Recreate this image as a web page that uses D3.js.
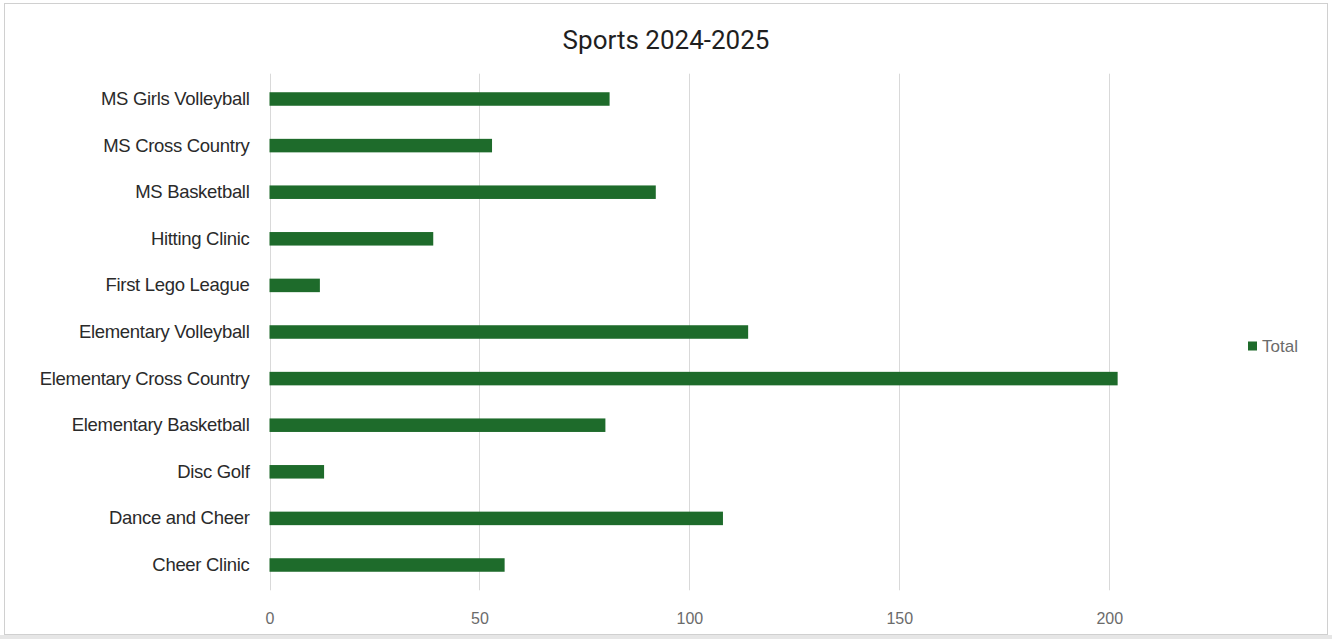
<!DOCTYPE html>
<html>
<head>
<meta charset="utf-8">
<script src="https://cdn.jsdelivr.net/npm/d3@7"></script>
<style>
  html, body { margin: 0; padding: 0; background: #fff; }
  svg { display: block; }
</style>
</head>
<body>
<svg id="chart"></svg>
<script>
// categories listed top to bottom, as they appear in the chart
const categories = [
  'MS Girls Volleyball',
  'MS Cross Country',
  'MS Basketball',
  'Hitting Clinic',
  'First Lego League',
  'Elementary Volleyball',
  'Elementary Cross Country',
  'Elementary Basketball',
  'Disc Golf',
  'Dance and Cheer',
  'Cheer Clinic'
];
const totals = [81, 53, 92, 39, 12, 114, 202, 80, 13, 108, 56];
const xTicks = [0, 50, 100, 150, 200];
const seriesName = 'Total';
const chartTitle = 'Sports 2024-2025';

const width = 1332;
const height = 639;
const barColor = '#1e6b2b';
const gridColor = '#d9d9d9';

const svg = d3.select('#chart')
  .attr('width', width)
  .attr('height', height);

// chart frame
svg.append('rect')
  .attr('x', 0).attr('y', 635)
  .attr('width', width).attr('height', 4)
  .attr('fill', '#e6e6e6');
svg.append('rect')
  .attr('x', 4.5).attr('y', 3.5)
  .attr('width', 1323).attr('height', 631)
  .attr('fill', '#fff')
  .attr('stroke', '#d0d0d0')
  .attr('stroke-width', 1);

const plotLeft = 269.5;
const plotRight = 1231;
const plotTop = 75.7;
const plotBottom = 588.3;

const x = d3.scaleLinear().domain([0, 229]).range([plotLeft, plotRight]);
const y = d3.scaleBand().domain(categories).range([plotTop, plotBottom]).paddingInner(0.71).paddingOuter(0.355);

// vertical gridlines
svg.append('g')
  .selectAll('line')
  .data(xTicks)
  .join('line')
  .attr('x1', d => Math.round(x(d)) + 0.5)
  .attr('x2', d => Math.round(x(d)) + 0.5)
  .attr('y1', plotTop - 2)
  .attr('y2', plotBottom + 2)
  .attr('stroke', gridColor)
  .attr('stroke-width', 1);

// bars
const rows = categories.map((c, i) => ({ label: c, value: totals[i] }));
svg.append('g')
  .selectAll('rect')
  .data(rows)
  .join('rect')
  .attr('x', x(0))
  .attr('y', d => y(d.label))
  .attr('width', d => x(d.value) - x(0))
  .attr('height', y.bandwidth())
  .attr('fill', barColor);

// category axis
const yAxis = d3.axisLeft(y).tickSize(0).tickPadding(20);
const yAxisG = svg.append('g')
  .attr('transform', `translate(${plotLeft}, 0)`)
  .call(yAxis);
yAxisG.select('.domain').remove();
yAxisG.selectAll('text')
  .attr('font-family', 'Liberation Sans, Arial, sans-serif')
  .attr('font-size', 18.5)
  .attr('letter-spacing', -0.3)
  .attr('fill', '#2a2a2a');

// value axis
const xAxis = d3.axisBottom(x).tickValues(xTicks).tickSize(0).tickPadding(0);
const xAxisG = svg.append('g')
  .attr('transform', `translate(0, 613)`)
  .call(xAxis);
xAxisG.select('.domain').remove();
xAxisG.selectAll('text')
  .attr('font-family', 'Liberation Sans, Arial, sans-serif')
  .attr('font-size', 16)
  .attr('fill', '#6b6b6b');

// title
svg.append('text')
  .attr('x', 666)
  .attr('y', 49)
  .attr('text-anchor', 'middle')
  .attr('font-family', 'Roboto, Liberation Sans, sans-serif')
  .attr('font-size', 26)
  .attr('fill', '#1f1f1f')
  .text(chartTitle);

// legend
const legend = svg.append('g').attr('transform', 'translate(1248, 346)');
legend.append('rect')
  .attr('x', 0).attr('y', -4.5)
  .attr('width', 9).attr('height', 9)
  .attr('fill', barColor);
legend.append('text')
  .attr('x', 14)
  .attr('y', 6)
  .attr('font-family', 'Liberation Sans, Arial, sans-serif')
  .attr('font-size', 17)
  .attr('fill', '#6b6b6b')
  .text(seriesName);
</script>
</body>
</html>
